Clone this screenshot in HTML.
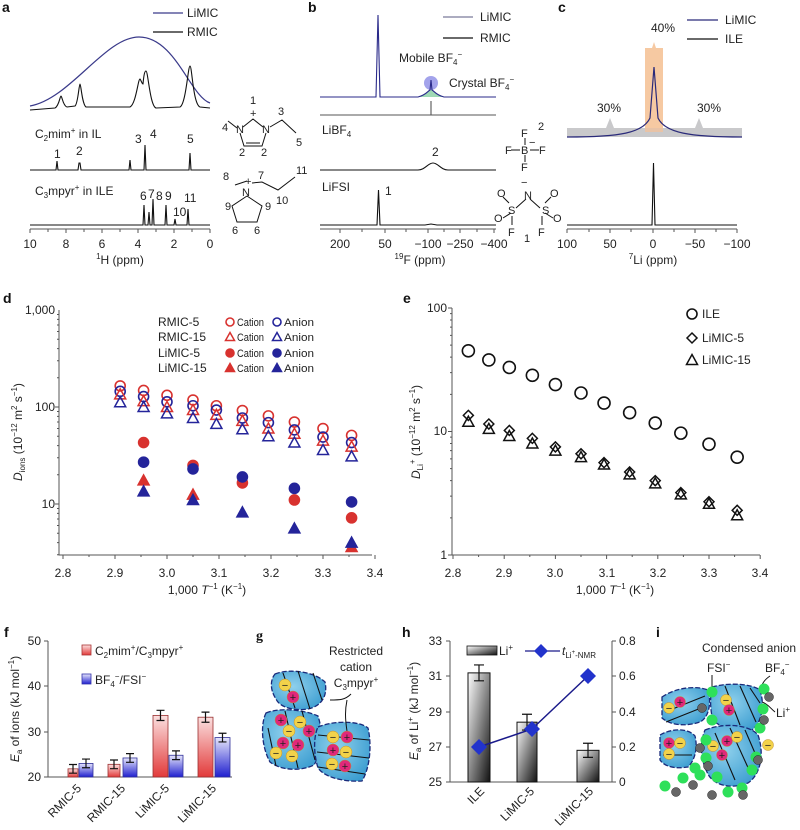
<!DOCTYPE html>
<html><head><meta charset="utf-8"><style>
html,body{margin:0;padding:0;background:#fff}
svg{display:block;font-family:"Liberation Sans",Arial,sans-serif}
.t{font-size:12px;fill:#222}
.s{font-size:11px;fill:#222}
.L{font-size:14px;font-weight:bold;fill:#111}
.ax{stroke:#555;stroke-width:1;fill:none}
.sp{stroke:#111;stroke-width:1.1;fill:none}
</style></head><body>
<svg id="S" width="800" height="830" viewBox="0 0 800 830" xmlns="http://www.w3.org/2000/svg">
<defs>
<linearGradient id="gr" x1="0" y1="0" x2="0" y2="1"><stop offset="0" stop-color="#fbe0e0"/><stop offset="1" stop-color="#e23a3a"/></linearGradient>
<linearGradient id="gb" x1="0" y1="0" x2="0" y2="1"><stop offset="0" stop-color="#e6e6fb"/><stop offset="1" stop-color="#1f1fcf"/></linearGradient>
<linearGradient id="gk" x1="0" y1="0" x2="1" y2="1"><stop offset="0" stop-color="#fff"/><stop offset="1" stop-color="#111"/></linearGradient>
<radialGradient id="gbl" cx="0.4" cy="0.4" r="0.7"><stop offset="0" stop-color="#8fd0ec"/><stop offset="1" stop-color="#3a9cd0"/></radialGradient>
</defs>

<!-- ===== a ===== -->
<text class="L" x="2" y="12">a</text>
<line x1="153" y1="13" x2="183" y2="13" stroke="#3a3a8a" stroke-width="1.2"/><text class="t" x="187" y="17">LiMIC</text>
<line x1="153" y1="32" x2="183" y2="32" stroke="#111" stroke-width="1.2"/><text class="t" x="187" y="36">RMIC</text>
<path d="M30,106 C70,99 105,37 139,37 C175,37 190,96 210,103" stroke="#3a3a8a" stroke-width="1.2" fill="none"/>
<path class="sp" d="M30,110 L55,108 C59,106 60,96 61,96 C62,96 63,106 67,107 L75,106 C78,104 79,84 80,84 C81,84 82,104 86,107 L130,107 C136,104 138,79 140,79 C141,80 142,84 143,84 C144,73 145,71 146,71 C148,71 150,106 156,108 L180,107 C186,104 188,66 190,66 C192,66 193,104 200,107 L210,108"/>
<text class="t" x="35" y="138">C<tspan font-size="8" dy="3">2</tspan><tspan dy="-3">mim</tspan><tspan font-size="8" dy="-5">+</tspan><tspan dy="5"> in IL</tspan></text>
<path class="sp" d="M30,170 L56,170 L57,161 L58,170 L78,170 L79,163 L80,163 L81,170 L129,170 L130,160 L131,170 L144,170 L145,145 L146,170 L189,170 L190,153 L191,170 L210,170"/>
<text class="t" x="54" y="158">1</text><text class="t" x="76" y="155">2</text><text class="t" x="135" y="143">3</text><text class="t" x="150" y="138">4</text><text class="t" x="187" y="143">5</text>
<text class="t" x="35" y="195">C<tspan font-size="8" dy="3">3</tspan><tspan dy="-3">mpyr</tspan><tspan font-size="8" dy="-5">+</tspan><tspan dy="5"> in ILE</tspan></text>
<path class="sp" d="M30,225 L143,225 L144,205 L145,225 L148,225 L149,212 L150,225 L152,225 L153,199 L154,225 L165,225 L166,205 L167,225 L174,225 L175,219 L176,225 L187,225 L188,209 L189,225 L210,225"/>
<text class="t" x="140" y="200">6</text><text class="t" x="148" y="198">7</text><text class="t" x="156" y="200">8</text><text class="t" x="165" y="200">9</text><text class="t" x="173" y="216">10</text><text class="t" x="184" y="202">11</text>
<line class="ax" x1="30" y1="229" x2="210" y2="229"/>
<g class="ax"><path d="M30,229v4M48,229v3M66,229v4M84,229v3M102,229v4M120,229v3M138,229v4M156,229v3M174,229v4M192,229v3M210,229v4"/></g>
<text class="t" x="30" y="248" text-anchor="middle">10</text><text class="t" x="66" y="248" text-anchor="middle">8</text><text class="t" x="102" y="248" text-anchor="middle">6</text><text class="t" x="138" y="248" text-anchor="middle">4</text><text class="t" x="174" y="248" text-anchor="middle">2</text><text class="t" x="210" y="248" text-anchor="middle">0</text>
<text class="t" x="120" y="264" text-anchor="middle"><tspan font-size="8" dy="-5">1</tspan><tspan dy="5">H (ppm)</tspan></text>
<g stroke="#111" stroke-width="1" fill="none">
<path d="M243,127 L253,119 L263,127 M266,133 L262,146 L244,146 L240,133 M246,143 L260,143 M228,121 L237,128 M270,127 L282,120 L296,133"/>
<path d="M247,181 L235,185 M252,183 L262,182 L278,190 L295,177 M247,196 L262,206 L257,222 L237,222 L232,206 L247,196"/>
</g>
<text class="s" x="250" y="104">1</text><text class="s" x="250" y="117">+</text><text class="s" x="278" y="115">3</text>
<text class="s" x="222" y="131">4</text><text class="s" x="236" y="133">N</text><text class="s" x="262" y="133">N</text><text class="s" x="296" y="146">5</text>
<text class="s" x="239" y="156">2</text><text class="s" x="261" y="156">2</text>
<text class="s" x="223" y="180">8</text><text class="s" x="245" y="185">+</text><text class="s" x="258" y="179">7</text><text class="s" x="296" y="174">11</text>
<text class="s" x="242" y="196">N</text><text class="s" x="276" y="204">10</text><text class="s" x="225" y="210">9</text><text class="s" x="265" y="210">9</text>
<text class="s" x="232" y="234">6</text><text class="s" x="254" y="234">6</text>

<!-- ===== b ===== -->
<text class="L" x="308" y="12">b</text>
<line x1="443" y1="17" x2="473" y2="17" stroke="#7a7a9a" stroke-width="1.2"/><text class="t" x="480" y="21">LiMIC</text>
<line x1="443" y1="38" x2="473" y2="38" stroke="#111" stroke-width="1.2"/><text class="t" x="480" y="42">RMIC</text>
<text class="t" x="399" y="62">Mobile BF<tspan font-size="8" dy="3">4</tspan><tspan font-size="8" dy="-8">−</tspan></text>
<circle cx="431" cy="83" r="7" fill="#8c8ce6" opacity="0.8"/>
<path d="M418,97 C426,95 428,90 431,90 C434,90 436,95 444,97 Z" fill="#9fd9b5"/>
<text class="t" x="449" y="87">Crystal BF<tspan font-size="8" dy="3">4</tspan><tspan font-size="8" dy="-8">−</tspan></text>
<path d="M320,97 L376,97 L378,15 L380,97 L418,97 C426,95 428,91 430,90 L431,80 L432,90 C434,91 436,95 444,97 L496,97" stroke="#2a2a8a" stroke-width="1.1" fill="none"/>
<path d="M320,115 L496,115 M431,101 L431,115" stroke="#555" stroke-width="1.1" fill="none"/>
<text class="t" x="322" y="134">LiBF<tspan font-size="8" dy="3">4</tspan></text>
<path class="sp" d="M320,170 L418,170 C425,170 428,163 433,163 C438,163 441,170 448,170 L496,170"/>
<text class="t" x="432" y="156">2</text>
<text class="t" x="322" y="191">LiFSI</text>
<path class="sp" d="M320,225 L377,225 L378.5,190 L380,225 L425,225 L431,224 L437,225 L496,225"/>
<text class="t" x="385" y="195">1</text>
<line class="ax" x1="320" y1="229" x2="496" y2="229"/>
<g class="ax"><path d="M340,229v4M362,229v3M385,229v4M406,229v3M428,229v4M444,229v3M460,229v4M477,229v3M494,229v4"/></g>
<text class="t" x="340" y="248" text-anchor="middle">200</text><text class="t" x="385" y="248" text-anchor="middle">50</text><text class="t" x="428" y="248" text-anchor="middle">−100</text><text class="t" x="460" y="248" text-anchor="middle">−250</text><text class="t" x="494" y="248" text-anchor="middle">−400</text>
<text class="t" x="420" y="264" text-anchor="middle"><tspan font-size="8" dy="-5">19</tspan><tspan dy="5">F (ppm)</tspan></text>
<g stroke="#111" stroke-width="1"><path d="M525,138 V145 M525,155 V162 M511,150 H520 M530,150 H539 M526,199 L516,208 M530,199 L540,208 M509,203 L503,197 M511,213 L503,218 M512,216 L512,225 M545,203 L551,197 M545,213 L553,218 M542,216 L542,225"/></g>
<text class="s" x="521" y="137">F</text><text class="s" x="505" y="154">F</text><text class="s" x="521" y="154">B</text><text class="s" x="529" y="146">−</text><text class="s" x="539" y="154">F</text><text class="s" x="521" y="171">F</text><text class="s" x="538" y="130">2</text>
<text class="s" x="521" y="186">−</text><text class="s" x="524" y="199">N</text><text class="s" x="497" y="197">O</text><text class="s" x="494" y="222">O</text><text class="s" x="508" y="214">S</text><text class="s" x="542" y="214">S</text><text class="s" x="550" y="197">O</text><text class="s" x="553" y="222">O</text><text class="s" x="508" y="236">F</text><text class="s" x="538" y="236">F</text><text class="s" x="524" y="242">1</text>

<!-- ===== c ===== -->
<text class="L" x="558" y="12">c</text>
<line x1="687" y1="20" x2="718" y2="20" stroke="#2a2a7a" stroke-width="1.2"/><text class="t" x="725" y="24">LiMIC</text>
<line x1="687" y1="39" x2="718" y2="39" stroke="#111" stroke-width="1.2"/><text class="t" x="725" y="43">ILE</text>
<text class="t" x="651" y="32">40%</text>
<path d="M645,130 L645,48 L652,48 L654,42 L656,48 L663,48 L663,130 Z" fill="#f6c9a2"/>
<path d="M567,137 L567,128 L606,128 L610,118 L614,128 L695,128 L699,118 L703,128 L742,128 L742,137 Z" fill="#c9c9cb"/>
<path d="M645,128 L663,128 L663,132 L645,132 Z" fill="#e8c3a7"/>
<path d="M567,137 C620,137 643,133 650,118 L654,67 L658,118 C665,133 690,137 742,137" stroke="#2a2a7a" stroke-width="1.2" fill="none"/>
<text class="t" x="597" y="112">30%</text><text class="t" x="697" y="112">30%</text>
<path class="sp" d="M567,225 L652,225 L653.5,163 L655,225 L737,225"/>
<line class="ax" x1="567" y1="229" x2="737" y2="229"/>
<g class="ax"><path d="M567,229v4M589,229v3M610,229v4M631,229v3M653,229v4M674,229v3M695,229v4M716,229v3M737,229v4"/></g>
<text class="t" x="567" y="248" text-anchor="middle">100</text><text class="t" x="610" y="248" text-anchor="middle">50</text><text class="t" x="653" y="248" text-anchor="middle">0</text><text class="t" x="695" y="248" text-anchor="middle">−50</text><text class="t" x="737" y="248" text-anchor="middle">−100</text>
<text class="t" x="653" y="264" text-anchor="middle"><tspan font-size="8" dy="-5">7</tspan><tspan dy="5">Li (ppm)</tspan></text>

<!-- ===== d ===== -->
<text class="L" x="3" y="303">d</text>
<path class="ax" d="M59,310 V555 H372"/>
<g class="ax" id="dt"></g>
<text class="t" x="55" y="314" text-anchor="end">1,000</text><text class="t" x="55" y="411" text-anchor="end">100</text><text class="t" x="55" y="508" text-anchor="end">10</text>
<text class="t" x="63" y="577" text-anchor="middle">2.8</text><text class="t" x="115" y="577" text-anchor="middle">2.9</text><text class="t" x="167" y="577" text-anchor="middle">3.0</text><text class="t" x="219" y="577" text-anchor="middle">3.1</text><text class="t" x="271" y="577" text-anchor="middle">3.2</text><text class="t" x="323" y="577" text-anchor="middle">3.3</text><text class="t" x="375" y="577" text-anchor="middle">3.4</text>
<text class="t" x="207" y="594" text-anchor="middle">1,000 <tspan font-style="italic">T</tspan><tspan font-size="8" dy="-5">−1</tspan><tspan dy="5"> (K</tspan><tspan font-size="8" dy="-5">−1</tspan><tspan dy="5">)</tspan></text>
<text class="t" transform="translate(22,432) rotate(-90)" text-anchor="middle"><tspan font-style="italic">D</tspan><tspan font-size="8" dy="3">ions</tspan><tspan dy="-3"> (10</tspan><tspan font-size="8" dy="-5">−12</tspan><tspan dy="5"> m</tspan><tspan font-size="8" dy="-5">2</tspan><tspan dy="5"> s</tspan><tspan font-size="8" dy="-5">−1</tspan><tspan dy="5">)</tspan></text>
<text class="t" x="158" y="326">RMIC-5</text><text class="t" x="158" y="341">RMIC-15</text><text class="t" x="158" y="357">LiMIC-5</text><text class="t" x="158" y="372">LiMIC-15</text>
<g font-size="11" fill="#222">
<text x="237" y="326" textLength="27" lengthAdjust="spacingAndGlyphs">Cation</text><text x="237" y="341" textLength="27" lengthAdjust="spacingAndGlyphs">Cation</text><text x="237" y="357" textLength="27" lengthAdjust="spacingAndGlyphs">Cation</text><text x="237" y="372" textLength="27" lengthAdjust="spacingAndGlyphs">Cation</text>
<text x="284" y="326" textLength="30" lengthAdjust="spacingAndGlyphs">Anion</text><text x="284" y="341" textLength="30" lengthAdjust="spacingAndGlyphs">Anion</text><text x="284" y="357" textLength="30" lengthAdjust="spacingAndGlyphs">Anion</text><text x="284" y="372" textLength="30" lengthAdjust="spacingAndGlyphs">Anion</text>
</g>
<g id="dm"></g>

<!-- ===== e ===== -->
<text class="L" x="403" y="303">e</text>
<path class="ax" d="M452,308 V555 H760"/>
<g class="ax" id="et"></g>
<text class="t" x="447" y="312" text-anchor="end">100</text><text class="t" x="447" y="435" text-anchor="end">10</text><text class="t" x="447" y="559" text-anchor="end">1</text>
<text class="t" x="453" y="577" text-anchor="middle">2.8</text><text class="t" x="504" y="577" text-anchor="middle">2.9</text><text class="t" x="555" y="577" text-anchor="middle">3.0</text><text class="t" x="607" y="577" text-anchor="middle">3.1</text><text class="t" x="658" y="577" text-anchor="middle">3.2</text><text class="t" x="709" y="577" text-anchor="middle">3.3</text><text class="t" x="760" y="577" text-anchor="middle">3.4</text>
<text class="t" x="615" y="594" text-anchor="middle">1,000 <tspan font-style="italic">T</tspan><tspan font-size="8" dy="-5">−1</tspan><tspan dy="5"> (K</tspan><tspan font-size="8" dy="-5">−1</tspan><tspan dy="5">)</tspan></text>
<text class="t" transform="translate(420,432) rotate(-90)" text-anchor="middle"><tspan font-style="italic">D</tspan><tspan font-size="8" dy="3">Li</tspan><tspan font-size="8" dy="-8">+</tspan><tspan dy="5"> (10</tspan><tspan font-size="8" dy="-5">−12</tspan><tspan dy="5"> m</tspan><tspan font-size="8" dy="-5">2</tspan><tspan dy="5"> s</tspan><tspan font-size="8" dy="-5">−1</tspan><tspan dy="5">)</tspan></text>
<text class="t" x="702" y="318">ILE</text><text class="t" x="702" y="342">LiMIC-5</text><text class="t" x="702" y="364">LiMIC-15</text>
<g id="em"></g>

<!-- ===== f ===== -->
<text class="L" x="4" y="637">f</text>
<path class="ax" d="M48,641 V777 H232"/>
<path class="ax" d="M48,641h-4M48,686h-4M48,732h-4M48,777h-4"/>
<text class="t" x="41" y="645" text-anchor="end">50</text><text class="t" x="41" y="690" text-anchor="end">40</text><text class="t" x="41" y="736" text-anchor="end">30</text><text class="t" x="41" y="781" text-anchor="end">20</text>
<text class="t" transform="translate(19,709) rotate(-90)" text-anchor="middle"><tspan font-style="italic">E</tspan><tspan font-size="8" dy="3">a</tspan><tspan dy="-3"> of ions (kJ mol</tspan><tspan font-size="8" dy="-5">−1</tspan><tspan dy="5">)</tspan></text>
<rect x="82" y="645" width="9" height="10" fill="url(#gr)" stroke="#a33" stroke-width="0.8"/><text class="t" x="95" y="655">C<tspan font-size="8" dy="3">2</tspan><tspan dy="-3">mim</tspan><tspan font-size="8" dy="-5">+</tspan><tspan dy="5">/C</tspan><tspan font-size="8" dy="3">3</tspan><tspan dy="-3">mpyr</tspan><tspan font-size="8" dy="-5">+</tspan></text>
<rect x="82" y="674" width="9" height="10" fill="url(#gb)" stroke="#33a" stroke-width="0.8"/><text class="t" x="95" y="684">BF<tspan font-size="8" dy="3">4</tspan><tspan font-size="8" dy="-8">−</tspan><tspan dy="5">/FSI</tspan><tspan font-size="8" dy="-5">−</tspan></text>
<g id="fb"></g>
<text class="t" transform="translate(82,789) rotate(-45)" text-anchor="end">RMIC-5</text>
<text class="t" transform="translate(126,789) rotate(-45)" text-anchor="end">RMIC-15</text>
<text class="t" transform="translate(170,789) rotate(-45)" text-anchor="end">LiMIC-5</text>
<text class="t" transform="translate(217,789) rotate(-45)" text-anchor="end">LiMIC-15</text>

<!-- ===== g ===== -->
<text class="L" x="256" y="640" font-family="Liberation Serif">g</text>
<text class="t" x="356" y="655" text-anchor="middle">Restricted</text>
<text class="t" x="356" y="671" text-anchor="middle">cation</text>
<text class="t" x="356" y="687" text-anchor="middle">C<tspan font-size="8" dy="3">3</tspan><tspan dy="-3">mpyr</tspan><tspan font-size="8" dy="-5">+</tspan></text>
<g stroke="#1a2a7a" stroke-width="1.3" stroke-dasharray="5,2" fill="url(#gbl)">
<path d="M275,674 C290,668 315,672 325,682 C328,695 322,706 308,709 C295,711 280,708 276,699 C270,690 270,680 275,674 Z"/>
<path d="M266,713 C280,707 305,710 318,716 C324,735 322,752 314,765 C300,772 280,770 270,762 C262,748 260,725 266,713 Z"/>
<path d="M318,727 C335,720 360,721 368,728 C372,745 370,768 362,781 C345,782 325,778 318,768 C313,752 314,735 318,727 Z"/>
</g>
<g stroke="#111" stroke-width="1.1"><path d="M283,673 L295,708 M298,671 L310,709 M313,673 L322,700 M268,728 L276,766 M285,711 L298,768 M302,711 L315,760 M318,735 L369,740 M317,752 L369,758 M318,767 L365,774"/></g>
<path d="M351,694 C345,700 340,700 330,700 M347,700 C345,710 345,718 347,731" stroke="#111" fill="none" stroke-width="1"/>
<g id="gi"></g>

<!-- ===== h ===== -->
<text class="L" x="402" y="637">h</text>
<path class="ax" d="M450,641 V782 H612 V641"/>
<path class="ax" d="M450,641h-4M450,676h-4M450,712h-4M450,747h-4M450,782h-4M612,641h4M612,676h4M612,712h4M612,747h4M612,782h4"/>
<text class="t" x="442" y="645" text-anchor="end">33</text><text class="t" x="442" y="680" text-anchor="end">31</text><text class="t" x="442" y="716" text-anchor="end">29</text><text class="t" x="442" y="751" text-anchor="end">27</text><text class="t" x="442" y="786" text-anchor="end">25</text>
<text class="t" x="619" y="645">0.8</text><text class="t" x="619" y="680">0.6</text><text class="t" x="619" y="716">0.4</text><text class="t" x="619" y="751">0.2</text><text class="t" x="619" y="786">0</text>
<text class="t" transform="translate(418,711) rotate(-90)" text-anchor="middle"><tspan font-style="italic">E</tspan><tspan font-size="8" dy="3">a</tspan><tspan dy="-3"> of Li</tspan><tspan font-size="8" dy="-5">+</tspan><tspan dy="5"> (kJ mol</tspan><tspan font-size="8" dy="-5">−1</tspan><tspan dy="5">)</tspan></text>
<rect x="467" y="646" width="30" height="9" fill="url(#gk)" stroke="#111" stroke-width="0.8"/><text class="t" x="499" y="655">Li<tspan font-size="8" dy="-5">+</tspan></text>
<line x1="525" y1="651" x2="560" y2="651" stroke="#1a1a8a" stroke-width="1.3"/><path d="M541,644 L548,651 L541,658 L534,651 Z" fill="#2233cc"/>
<text class="t" x="562" y="655"><tspan font-style="italic">t</tspan><tspan font-size="8" dy="3">Li</tspan><tspan font-size="6" dy="-4">+</tspan><tspan font-size="8" dy="4">-NMR</tspan></text>
<g id="hb"></g>
<text class="t" transform="translate(485,792) rotate(-45)" text-anchor="end">ILE</text>
<text class="t" transform="translate(535,792) rotate(-45)" text-anchor="end">LiMIC-5</text>
<text class="t" transform="translate(594,792) rotate(-45)" text-anchor="end">LiMIC-15</text>

<!-- ===== i ===== -->
<text class="L" x="656" y="637">i</text>
<text class="t" x="702" y="652">Condensed anion</text>
<text class="t" x="707" y="672">FSI<tspan font-size="8" dy="-5">−</tspan></text>
<text class="t" x="765" y="672">BF<tspan font-size="8" dy="3">4</tspan><tspan font-size="8" dy="-8">−</tspan></text>
<text class="t" x="776" y="717">Li<tspan font-size="8" dy="-5">+</tspan></text>
<g stroke="#1a2a7a" stroke-width="1.3" stroke-dasharray="5,2" fill="url(#gbl)">
<path d="M662,697 C675,688 695,685 708,690 C712,705 708,718 700,722 C685,727 670,725 662,718 Z"/>
<path d="M712,687 C730,682 752,684 760,690 C765,705 762,722 752,730 C738,732 720,728 713,720 C710,710 710,697 712,687 Z"/>
<path d="M660,735 C672,728 688,728 695,736 C698,748 695,760 688,767 C675,769 665,767 660,760 Z"/>
<path d="M705,730 C725,722 750,725 758,735 C765,755 760,775 748,783 C730,790 712,785 707,772 C700,758 700,742 705,730 Z"/>
</g>
<g stroke="#111" stroke-width="1.1"><path d="M665,712 L705,696 M666,722 L706,706 M725,686 L740,725 M740,686 L756,722 M750,688 L760,703 M663,755 L692,755 M715,733 L735,780 M730,728 L750,772 M745,730 L758,760"/></g>
<path d="M712,675 L712,690 M770,676 C764,680 762,684 760,690 M775,712 C770,708 768,704 762,702" stroke="#111" fill="none" stroke-width="1"/>
<g id="ii"></g>
</svg>
<script>
var NS="http://www.w3.org/2000/svg";
function el(p,t,a){var e=document.createElementNS(NS,t);for(var k in a)e.setAttribute(k,a[k]);document.getElementById(p).appendChild(e);return e;}
function mk(p,type,x,y,col,fill,r){r=r||5;var f=fill?col:"none";
 if(type=="c")el(p,"circle",{cx:x,cy:y,r:r,stroke:col,"stroke-width":1.6,fill:f});
 else if(type=="t")el(p,"path",{d:"M"+x+","+(y-r-0.5)+" L"+(x+r+0.5)+","+(y+r-0.5)+" L"+(x-r-0.5)+","+(y+r-0.5)+" Z",stroke:col,"stroke-width":1.5,fill:f});
 else if(type=="d")el(p,"path",{d:"M"+x+","+(y-r)+" L"+(x+r)+","+y+" L"+x+","+(y+r)+" L"+(x-r)+","+y+" Z",stroke:col,"stroke-width":1.5,fill:f});}
var s="";for(var dec=0;dec<3;dec++){for(var m=1;m<10;m++){var y=504+97-97*dec-97*Math.log10(m);if(y<310||y>555)continue;s+="M59,"+y+"h"+(m==1?-4:-2);}}
for(var i=0;i<=12;i++){s+="M"+(63+i*26)+",555v"+(i%2?2:4);}
el("dt","path",{d:s});
var R="#d8322f",B="#24249a";
function dX(v){return 63+(v-2.8)*520} function dY(D){return 504-97*(Math.log10(D)-1)}
var xs=[2.91,2.955,3.0,3.05,3.095,3.145,3.195,3.245,3.3,3.355];
var S=[[[165,148,132,118,103,92,81,70,60,51],"c",R,0],[[145,128,113,103,93,77,69,58,49,43],"c",B,0],
[[135,115,100,93,83,72,60,53,45,39],"t",R,0],[[112,100,86,77,67,59,50,43,36,31],"t",B,0]];
S.forEach(function(q){q[0].forEach(function(v,i){mk("dm",q[1],dX(xs[i]),dY(v),q[2],q[3])})});
var xf=[2.955,3.05,3.145,3.245,3.355];
[[[43,25,16.5,11,7.2],"c",R],[[27,23,19,14.5,10.5],"c",B],[[17.5,12.5,null,null,3.6],"t",R],[[13.5,11,8.2,5.6,4],"t",B]].forEach(function(q){q[0].forEach(function(v,i){if(v)mk("dm",q[1],dX(xf[i]),dY(v),q[2],1)})});
[[326,"c",0],[341,"t",0],[357,"c",1],[372,"t",1]].forEach(function(r){mk("dm",r[1],230,r[0]-4,R,r[2],4);mk("dm",r[1],277,r[0]-4,B,r[2],4);});
s="";for(var dec=0;dec<2;dec++){for(var m=1;m<10;m++){var y=555-123.5*dec-123.5*Math.log10(m);s+="M452,"+y+"h"+(m==1?-4:-2);}}s+="M452,308h-4";
for(var i=0;i<=12;i++){s+="M"+(453+i*25.6)+",555v"+(i%2?2:4);}
el("et","path",{d:s});
function eX(v){return 453+(v-2.8)*512} function eY(D){return 555-123.5*Math.log10(D)}
var xe=[2.83,2.87,2.91,2.955,3.0,3.05,3.095,3.145,3.195,3.245,3.3,3.355];
[45,38,33,28.5,24,20.5,17,14.2,11.7,9.7,7.9,6.2].forEach(function(v,i){mk("em","c",eX(xe[i]),eY(v),"#111",0,6)});
[13.5,11.5,10.2,8.8,7.5,6.6,5.6,4.7,4.0,3.2,2.7,2.3].forEach(function(v,i){mk("em","d",eX(xe[i]),eY(v),"#111",0,5)});
[12,10.5,9.2,8,7,6.2,5.4,4.5,3.8,3.1,2.6,2.1].forEach(function(v,i){mk("em","t",eX(xe[i]),eY(v),"#111",0,5)});
mk("em","c",692,314,"#111",0,5);mk("em","d",692,338,"#111",0,5);mk("em","t",692,360,"#111",0,5);
function fY(v){return 777-(v-20)*4.53}
[[68,78,21.8,.6,"r"],[79,93,23,.6,"b"],[108,120,22.8,.6,"r"],[123,137,24.2,.6,"b"],[153,168,33.6,.7,"r"],[169,183,24.8,.6,"b"],[198,213,33.2,.7,"r"],[215,230,28.7,.6,"b"]].forEach(function(b){
 var y=fY(b[2]);el("fb","rect",{x:b[0],y:y,width:b[1]-b[0],height:777-y,fill:b[4]=="r"?"url(#gr)":"url(#gb)",stroke:b[4]=="r"?"#9a3030":"#30309a","stroke-width":0.8});
 var c=(b[0]+b[1])/2,e=b[3]*4.53*1.6;el("fb","path",{d:"M"+c+","+(y-e)+"V"+(y+e)+"M"+(c-4)+","+(y-e)+"h8M"+(c-4)+","+(y+e)+"h8",stroke:"#111","stroke-width":1.2,fill:"none"});});
function hY(v){return 782-(v-25)*17.6}
[[468,490,31.2,.45],[517,537,28.4,.45],[577,599,26.8,.4]].forEach(function(b){var y=hY(b[2]);
 el("hb","rect",{x:b[0],y:y,width:b[1]-b[0],height:782-y,fill:"url(#gk)",stroke:"#111","stroke-width":1});
 var c=(b[0]+b[1])/2,e=b[3]*17.6;el("hb","path",{d:"M"+c+","+(y-e)+"V"+(y+e)+"M"+(c-5)+","+(y-e)+"h10M"+(c-5)+","+(y+e)+"h10",stroke:"#111","stroke-width":1.2,fill:"none"});});
el("hb","path",{d:"M479,747 L532,729 L588,676",stroke:"#1a1a8a","stroke-width":1.5,fill:"none"});
[[479,747],[532,729],[588,676]].forEach(function(p){el("hb","path",{d:"M"+p[0]+","+(p[1]-8)+" L"+(p[0]+8)+","+p[1]+" L"+p[0]+","+(p[1]+8)+" L"+(p[0]-8)+","+p[1]+" Z",fill:"#2233cc"})});
function ion(p,x,y,pl,r){r=r||6;el(p,"circle",{cx:x,cy:y,r:r,fill:pl?"#e0287a":"#f2d24a",stroke:"#c09030","stroke-width":0.5});
 var t=el(p,"text",{x:x,y:y+4,"text-anchor":"middle","font-size":"11",fill:"#222"});t.textContent=pl?"+":"−";}
[[285,685,0],[293,697,1],[281,720,1],[300,722,0],[289,731,0],[309,731,1],[283,743,1],[298,745,1],[276,753,0],[292,756,0],[333,737,0],[347,737,1],[333,750,1],[346,752,0],[332,764,0],[345,766,1]].forEach(function(a){ion("gi",a[0],a[1],a[2])});
[[669,708,0],[680,702,1],[726,700,0],[729,710,1],[669,743,1],[680,743,0],[669,754,0],[713,746,0],[727,741,1],[737,737,0],[722,755,1],[768,745,0]].forEach(function(a){ion("ii",a[0],a[1],a[2],5.5)});
[[712,692],[764,689],[763,709],[712,720],[706,740],[760,728],[706,758],[756,757],[700,775],[717,777],[728,792],[742,788],[665,786],[683,778],[695,768],[752,770]].forEach(function(a){el("ii","circle",{cx:a[0],cy:a[1],r:5.5,fill:"#2ee05a"})});
[[702,708],[769,697],[764,720],[700,748],[708,766],[676,792],[693,785],[743,795],[758,760],[712,795]].forEach(function(a){el("ii","circle",{cx:a[0],cy:a[1],r:4.5,fill:"#666",stroke:"#222","stroke-width":0.5})});
</script>
</body></html>
